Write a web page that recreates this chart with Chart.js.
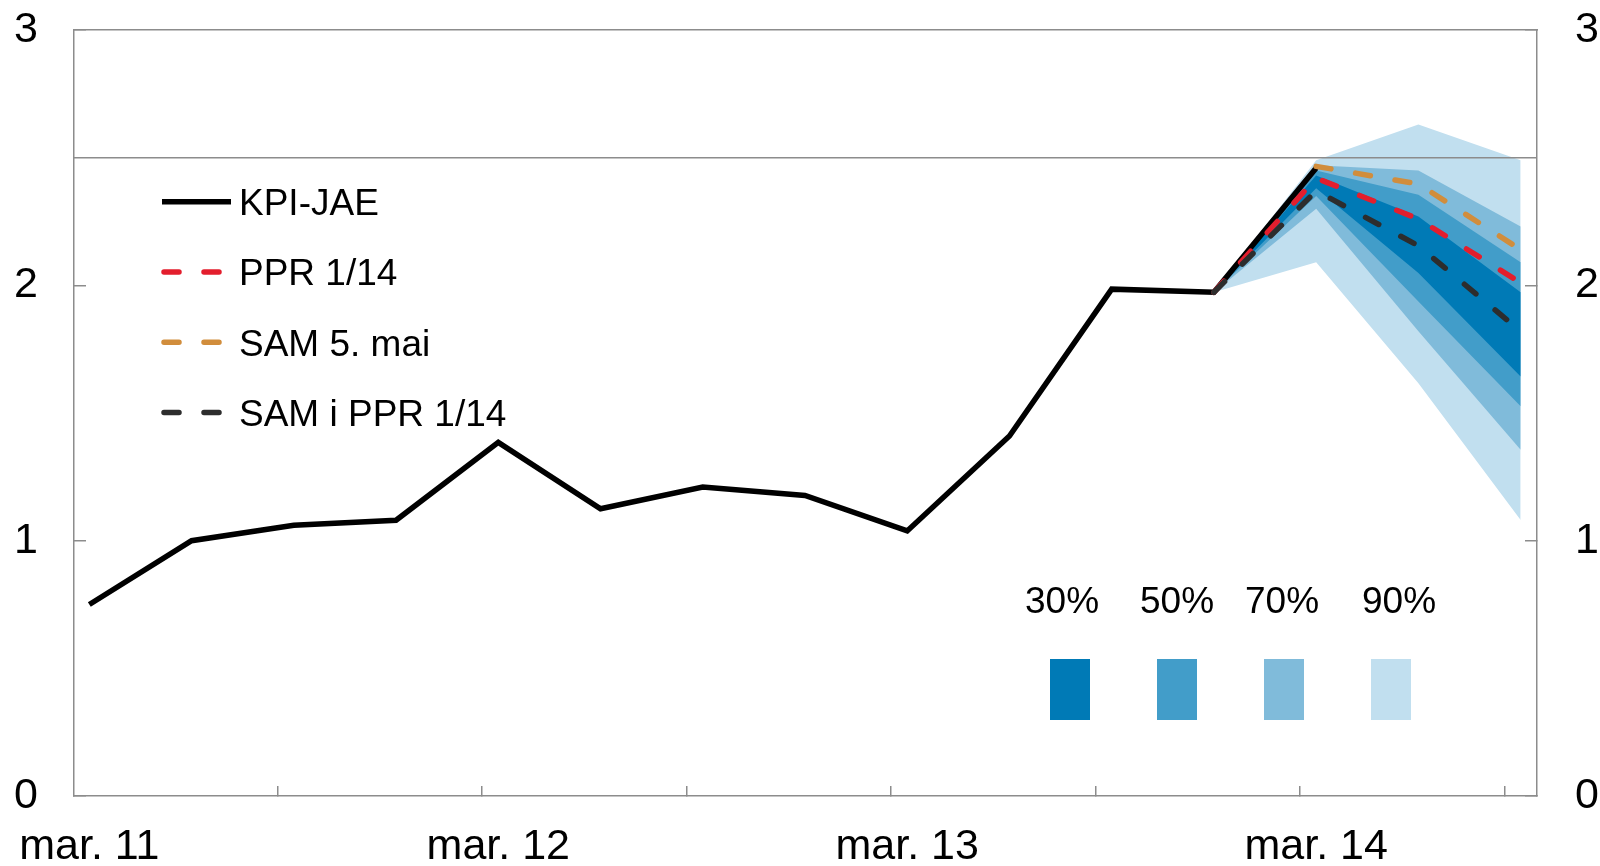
<!DOCTYPE html>
<html>
<head>
<meta charset="utf-8">
<script src="https://cdn.jsdelivr.net/npm/chart.js@4.4.1/dist/chart.umd.min.js"></script>
<style>
  body { margin: 0; background: #fff; }
  #wrap { width: 1600px; height: 866px; }
</style>
</head>
<body>
<div id="wrap"><canvas id="chart"></canvas></div>
<script>
// quarters on the x axis, index 0 = mar. 11
const quarters = ['mar. 11', 'jun. 11', 'sep. 11', 'des. 11', 'mar. 12', 'jun. 12', 'sep. 12', 'des. 12',
                  'mar. 13', 'jun. 13', 'sep. 13', 'des. 13', 'mar. 14', 'jun. 14', 'sep. 14'];
const xLabels = ['mar. 11', 'mar. 12', 'mar. 13', 'mar. 14'];
const yTicks = [0, 1, 2, 3];

const kpiJae   = [0.75, 1.00, 1.06, 1.08, 1.385, 1.125, 1.21, 1.177, 1.038, 1.41, 1.985, 1.973, 2.46, null, null];
const ppr114   = [null, null, null, null, null, null, null, null, null, null, null, 1.973, 2.42, 2.26, 2.01];
const sam5mai  = [null, null, null, null, null, null, null, null, null, null, null, null, 2.466, 2.397, 2.14];
const samIPpr  = [null, null, null, null, null, null, null, null, null, null, null, 1.973, 2.37, 2.155, 1.82];
const target = 2.5;

// fan chart bands from des. 13 to sep. 14
const fanStart = 11;
const band90Upper = [1.973, 2.49, 2.63, 2.49];
const band70Upper = [1.973, 2.47, 2.45, 2.23];
const band50Upper = [1.973, 2.45, 2.355, 2.09];
const band30Upper = [1.973, 2.43, 2.27, 1.973];
const band30Lower = [1.973, 2.38, 2.048, 1.643];
const band50Lower = [1.973, 2.35, 1.937, 1.526];
const band70Lower = [1.973, 2.30, 1.82, 1.356];
const band90Lower = [1.973, 2.09, 1.617, 1.081];
const bandLabels = ['30%', '50%', '70%', '90%'];

const bandColors = ['#007AB6', '#429DC9', '#80BBDA', '#C1DFEF'];
const axisGrey = '#8c8c8c';
const fontFamily = '"Liberation Sans", Arial, sans-serif';
const xMin = -0.15, xMax = 14.16;
const lineWidth = 5.5;

function toPoints(values, start = 0) {
  const pts = [];
  values.forEach((v, i) => { if (v !== null) pts.push({ x: start + i, y: v }); });
  return pts;
}

function lineSet(label, values, color, dash, order) {
  return {
    label: label, data: toPoints(values), borderColor: color, borderWidth: lineWidth,
    borderDash: dash, borderCapStyle: dash.length ? 'round' : 'butt', borderJoinStyle: 'miter',
    pointRadius: 0, fill: false, tension: 0, order: order, inLegend: true
  };
}

function bandSets(upper, lower, color, order) {
  return [
    { data: toPoints(upper, fanStart), borderWidth: 0, pointRadius: 0, backgroundColor: color, fill: '+1', order: order },
    { data: toPoints(lower, fanStart), borderWidth: 0, pointRadius: 0, fill: false, order: order }
  ];
}

const datasets = [
  lineSet('KPI-JAE', kpiJae, '#000000', [], 4),
  lineSet('PPR 1/14', ppr114, '#E31E2D', [15, 25], 2),
  lineSet('SAM 5. mai', sam5mai, '#D18D3C', [15, 25], 3),
  lineSet('SAM i PPR 1/14', samIPpr, '#2D2D2D', [15, 25], 1),
  { data: [{ x: xMin, y: target }, { x: xMax, y: target }], borderColor: axisGrey, borderWidth: 1.5,
    pointRadius: 0, fill: false, order: 5 },
  ...bandSets(band90Upper, band90Lower, bandColors[3], 9),
  ...bandSets(band70Upper, band70Lower, bandColors[2], 8),
  ...bandSets(band50Upper, band50Lower, bandColors[1], 7),
  ...bandSets(band30Upper, band30Lower, bandColors[0], 6)
];

// tick marks sit between the labelled quarters
function xTickValues() {
  const ticks = xLabels.map(l => ({ value: quarters.indexOf(l) }));
  for (let i = 2; i < quarters.length; i += 2) ticks.push({ value: i - 0.16 });
  return ticks.sort((a, b) => a.value - b.value);
}

// no extra room for overhanging labels, the plot box is fixed
function fixSize(prop, size) {
  return s => {
    s[prop] = size;
    s.paddingLeft = s.paddingRight = s.paddingTop = s.paddingBottom = 0;
  };
}

const legendPlugin = {
  id: 'customLegends',
  afterDraw(chart) {
    const ctx = chart.ctx;
    ctx.save();
    ctx.font = '37px ' + fontFamily;
    ctx.fillStyle = '#000';
    ctx.textBaseline = 'alphabetic';

    // line legend, top left inside the plot
    chart.data.datasets.filter(d => d.inLegend).forEach((d, i) => {
      const y = 201.7 + i * 70.3;
      ctx.beginPath();
      ctx.strokeStyle = d.borderColor;
      ctx.lineWidth = lineWidth;
      ctx.lineCap = d.borderDash.length ? 'round' : 'butt';
      ctx.setLineDash(d.borderDash);
      ctx.moveTo(d.borderDash.length ? 164 : 162, y);
      ctx.lineTo(d.borderDash.length ? 220 : 231, y);
      ctx.stroke();
      ctx.setLineDash([]);
      ctx.textAlign = 'left';
      ctx.fillText(d.label, 239, y + 13.2);
    });

    // fan band legend
    const textX = [1062, 1177, 1282, 1399];
    bandLabels.forEach((l, i) => {
      ctx.textAlign = 'center';
      ctx.fillText(l, textX[i], 612.7);
      ctx.fillStyle = bandColors[i];
      ctx.fillRect(1050 + i * 107, 659, 40, 61);
      ctx.fillStyle = '#000';
    });
    ctx.restore();
  }
};

const tickFont = { family: fontFamily, size: 43 };

new Chart(document.getElementById('chart'), {
  type: 'line',
  data: { datasets: datasets },
  plugins: [legendPlugin],
  options: {
    responsive: true,
    maintainAspectRatio: false,
    animation: false,
    layout: { padding: 0 },
    plugins: { legend: { display: false }, tooltip: { enabled: false } },
    scales: {
      x: {
        type: 'linear', position: 'bottom', min: xMin, max: xMax,
        afterBuildTicks: s => { s.ticks = xTickValues(); },
        afterFit: fixSize('height', 70),
        border: { color: axisGrey, width: 1.5 },
        grid: {
          drawOnChartArea: false, tickLength: -10, lineWidth: 1.5,
          color: c => (c.tick && Number.isInteger(c.tick.value)) ? 'rgba(0,0,0,0)' : axisGrey
        },
        ticks: {
          autoSkip: false, maxRotation: 0, padding: 35, font: tickFont, color: '#000',
          callback: v => Number.isInteger(v) && xLabels.includes(quarters[v]) ? quarters[v] : ''
        }
      },
      xTop: {
        type: 'linear', position: 'top', min: xMin, max: xMax,
        afterFit: fixSize('height', 30),
        border: { color: axisGrey, width: 1.5 },
        grid: { display: false },
        ticks: { display: false }
      },
      y: {
        position: 'left', min: 0, max: 3,
        afterBuildTicks: s => { s.ticks = yTicks.map(v => ({ value: v })); },
        afterFit: fixSize('width', 74),
        border: { color: axisGrey, width: 1.5 },
        grid: { drawOnChartArea: false, tickLength: -12, lineWidth: 1.5, color: axisGrey },
        ticks: { padding: 48, font: tickFont, color: '#000' }
      },
      y2: {
        position: 'right', min: 0, max: 3,
        afterBuildTicks: s => { s.ticks = yTicks.map(v => ({ value: v })); },
        afterFit: fixSize('width', 63),
        border: { color: axisGrey, width: 1.5 },
        grid: { drawOnChartArea: false, tickLength: -12, lineWidth: 1.5, color: axisGrey },
        ticks: { padding: 50, font: tickFont, color: '#000' }
      }
    }
  }
});
</script>
</body>
</html>
